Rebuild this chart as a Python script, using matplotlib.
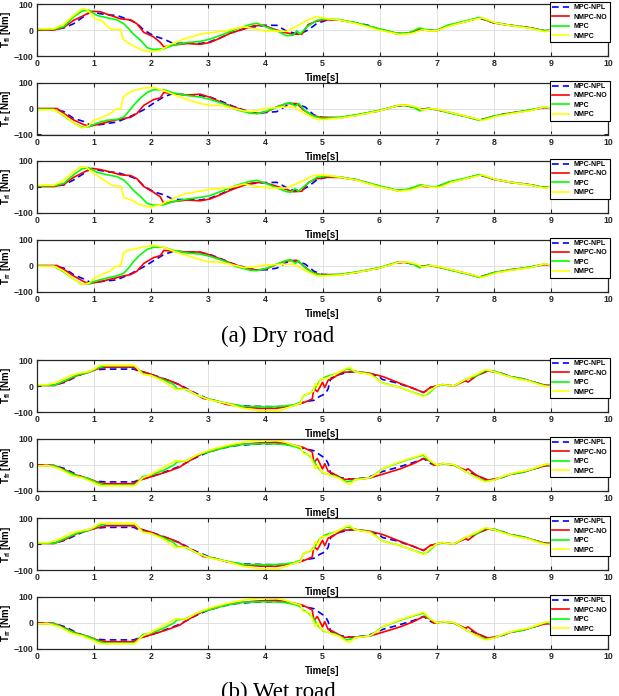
import matplotlib
matplotlib.use("Agg")
import matplotlib.pyplot as plt

plt.rcParams['font.family'] = ['Liberation Sans', 'DejaVu Sans']
plt.rcParams['font.weight'] = 'bold'
plt.rcParams['mathtext.fontset'] = 'custom'
plt.rcParams['mathtext.bf'] = 'Liberation Sans:bold'
plt.rcParams['mathtext.rm'] = 'Liberation Sans:bold'

# ---------------- data (time [s], torque [Nm]) ----------------
LABELS = ["MPC-NPL", "NMPC-NO", "MPC", "NMPC"]
X_TICKS = [0, 1, 2, 3, 4, 5, 6, 7, 8, 9, 10]
Y_TICKS = [-100, 0, 100]
YLABELS = [r"$\mathbf{T_{fl}}$ [Nm]", r"$\mathbf{T_{fr}}$ [Nm]",
           r"$\mathbf{T_{rl}}$ [Nm]", r"$\mathbf{T_{rr}}$ [Nm]"]
CAPTIONS = ["(a) Dry road", "(b) Wet road"]

# ---- Dry road, front-left
DRY_FL_NPL = [(0,2),(0.3,2),(0.47,8),(0.64,24),(0.82,52),(0.94,70),(1.1,63),(1.25,58),(1.4,56),(1.64,37),(1.75,25),(1.87,0),(2.04,-22),(2.22,-35),(2.39,-52),(2.63,-50),(2.86,-52),(3.03,-45),(3.21,-30),(3.38,-12),(3.62,4),(3.8,12),(4.0,18),(4.2,18),(4.35,-2),(4.5,-12),(4.65,-10),(4.75,0),(4.9,25),(5.1,40),
              (5.3,38),(5.6,27),(5.8,18),(6.0,2),(6.3,-14),(6.5,-12),(6.7,0),(6.85,0),(7.0,-2),(7.2,16),(7.5,33),(7.75,46),(7.9,35),(8.0,28),(8.3,18),(8.6,10),(8.9,-3),(9.0,0)]
DRY_FL_NO = [(0,0),(0.3,0),(0.47,10),(0.64,37),(0.82,56),(0.96,72),(1.11,70),(1.29,56),(1.46,43),(1.64,39),(1.75,24),(1.87,-9),(2.04,-26),(2.16,-48),(2.22,-65),(2.39,-58),(2.63,-52),(2.86,-55),(3.03,-48),(3.21,-31),(3.38,-13),(3.62,4),(3.79,16),(3.97,18),(4.14,4),(4.32,-9),(4.49,-16),(4.64,-16),(4.75,21),(4.9,34),(5.08,39),
             (5.3,38),(5.6,26),(6.0,3),(6.3,-13),(6.5,-13),(6.7,2),(6.85,-2),(7.0,-2),(7.2,17),(7.5,32),(7.75,47),(8.0,27),(8.3,17),(8.6,10),(8.9,-4),(9.0,0)]
DRY_FL_MPC = [(0,2),(0.3,3),(0.47,13),(0.64,50),(0.79,73),(0.91,76),(1.05,56),(1.23,47),(1.4,39),(1.52,24),(1.61,4),(1.69,-16),(1.81,-39),(1.93,-68),(2.04,-75),(2.22,-72),(2.39,-58),(2.63,-48),(2.86,-44),(3.03,-35),(3.27,-16),(3.5,4),(3.73,21),(3.85,26),(4.03,10),(4.2,-3),(4.37,-22),(4.49,-20),(4.55,-3),(4.61,-16),(4.73,13),(4.9,37),(5.08,43),
              (5.3,40),(5.6,27),(6.0,4),(6.3,-12),(6.5,-12),(6.7,8),(6.8,2),(7.0,-2),(7.2,19),(7.5,35),(7.75,48),(8.0,29),(8.3,18),(8.6,9),(8.9,-3),(9.0,0)]
DRY_FL_NMPC = [(0,5),(0.3,5),(0.47,23),(0.64,56),(0.79,82),(0.88,78),(1.02,43),(1.14,34),(1.25,10),(1.31,2),(1.47,2),(1.5,-35),(1.64,-55),(1.81,-75),(1.98,-84),(2.16,-78),(2.34,-55),(2.57,-35),(2.86,-16),(3.06,-10),(3.3,-3),(3.62,13),(3.8,5),(3.97,-3),(4.37,-5),(4.55,15),(4.73,37),(4.9,52),(5.08,43),
               (5.3,38),(5.6,24),(6.0,-1),(6.35,-17),(6.55,-14),(6.75,1),(6.9,-4),(7.0,-3),(7.25,17),(7.55,35),(7.8,47),(8.05,26),(8.35,15),(8.65,6),(8.9,-7),(9.0,0)]

# ---- Dry road, front-right
DRY_FR_NPL = [(0,-2),(0.3,-2),(0.47,-12),(0.64,-38),(0.82,-50),(0.94,-65),(1.11,-62),(1.4,-52),(1.64,-30),(1.87,-5),(2.04,20),(2.22,45),(2.39,58),(2.63,52),(2.86,50),(3.03,44),(3.2,30),(3.44,8),(3.68,-10),(3.85,-18),(4.03,-15),(4.2,-12),(4.4,15),(4.55,18),(4.7,5),(4.85,-25),(5.0,-35),
              (5.3,-36),(5.6,-26),(6.0,-9),(6.3,10),(6.45,12),(6.6,5),(6.7,-3),(6.85,0),(7.0,-4),(7.3,-20),(7.6,-36),(7.75,-45),(8.0,-30),(8.2,-20),(8.3,-18),(8.6,-8),(8.9,5),(9.0,0)]
DRY_FR_NO = [(0,0),(0.35,0),(0.47,-19),(0.64,-44),(0.82,-62),(0.91,-69),(1.11,-59),(1.34,-46),(1.52,-38),(1.64,-34),(1.75,-19),(1.87,12),(2.04,34),(2.16,41),(2.22,62),(2.39,56),(2.63,52),(2.86,55),(3.03,43),(3.21,25),(3.44,6),(3.68,-12),(3.85,-19),(4.03,-12),(4.2,6),(4.37,19),(4.55,19),(4.67,-6),(4.81,-25),(4.96,-34),(5.08,-34),
             (5.3,-35),(5.6,-25),(6.0,-8),(6.3,10),(6.45,12),(6.6,5),(6.7,-4),(6.85,0),(7.0,-5),(7.3,-19),(7.6,-35),(7.75,-45),(8.0,-30),(8.3,-17),(8.6,-8),(8.9,4),(9.0,0)]
DRY_FR_MPC = [(0,-2),(0.3,-3),(0.47,-28),(0.64,-55),(0.79,-72),(0.91,-70),(1.05,-56),(1.23,-45),(1.4,-42),(1.52,-33),(1.61,-10),(1.69,12),(1.81,40),(1.93,62),(2.04,72),(2.22,72),(2.39,60),(2.63,50),(2.86,44),(3.03,35),(3.27,18),(3.5,-5),(3.73,-18),(3.85,-20),(4.03,-10),(4.2,5),(4.37,20),(4.45,22),(4.52,8),(4.58,20),(4.7,-10),(4.85,-30),(5.0,-38),
              (5.3,-34),(5.6,-24),(6.0,-7),(6.3,11),(6.45,12),(6.6,4),(6.7,-9),(6.85,1),(7.0,-4),(7.3,-21),(7.6,-36),(7.75,-46),(8.0,-29),(8.3,-18),(8.6,-7),(8.9,6),(9.0,0)]
DRY_FR_NMPC = [(0,-5),(0.29,-5),(0.47,-25),(0.64,-56),(0.79,-75),(0.91,-66),(0.99,-46),(1.14,-34),(1.29,-19),(1.37,-4),(1.47,0),(1.51,44),(1.58,56),(1.69,69),(1.87,79),(2.04,81),(2.22,69),(2.39,54),(2.63,34),(2.86,19),(3.03,12),(3.21,12),(3.38,4),(3.62,-9),(3.75,-12),(4.0,0),(4.3,5),(4.5,6),(4.7,-20),(4.9,-42),(5.05,-42),
               (5.3,-37),(5.6,-27),(6.0,-9),(6.35,13),(6.5,13),(6.65,5),(6.75,-6),(6.9,0),(7.05,-5),(7.35,-21),(7.65,-37),(7.8,-46),(8.05,-30),(8.35,-18),(8.65,-8),(8.9,7),(9.0,0)]

# ---- Dry road, rear-left
DRY_RL_NPL = [(0,2),(0.3,2),(0.47,6),(0.64,25),(0.82,50),(0.94,68),(1.1,62),(1.25,56),(1.4,54),(1.64,38),(1.75,28),(1.87,2),(2.04,-20),(2.22,-32),(2.39,-50),(2.63,-50),(2.86,-52),(3.03,-45),(3.21,-30),(3.38,-12),(3.62,5),(3.8,12),(4.0,15),(4.2,16),(4.35,-2),(4.5,-15),(4.65,-12),(4.75,0),(4.9,25),(5.1,38),
              (5.3,36),(5.6,26),(6.0,1),(6.3,-15),(6.5,-12),(6.7,2),(6.85,-1),(7.0,-2),(7.2,15),(7.5,30),(7.75,45),(8.0,28),(8.3,16),(8.6,8),(8.9,-4),(9.0,0)]
DRY_RL_NO = [(0,0),(0.3,0),(0.47,8),(0.64,35),(0.82,55),(0.96,70),(1.11,65),(1.29,56),(1.46,45),(1.64,42),(1.75,30),(1.87,0),(2.04,-22),(2.16,-40),(2.22,-65),(2.39,-58),(2.63,-52),(2.86,-55),(3.03,-48),(3.21,-32),(3.38,-15),(3.62,5),(3.79,15),(3.97,15),(4.14,5),(4.32,-8),(4.49,-20),(4.64,-18),(4.75,15),(4.9,30),(5.08,35),
             (5.3,35),(5.6,25),(6.0,0),(6.3,-15),(6.5,-12),(6.7,3),(6.85,-2),(7.0,-2),(7.2,15),(7.5,30),(7.75,45),(8.0,28),(8.3,15),(8.6,8),(8.9,-5),(9.0,0)]
DRY_RL_MPC = [(0,2),(0.3,3),(0.47,12),(0.64,45),(0.79,68),(0.91,72),(1.05,55),(1.23,45),(1.4,38),(1.52,25),(1.61,5),(1.69,-15),(1.81,-38),(1.93,-65),(2.04,-72),(2.22,-70),(2.39,-58),(2.63,-48),(2.86,-42),(3.03,-35),(3.27,-15),(3.5,5),(3.73,20),(3.85,24),(4.03,10),(4.2,-5),(4.37,-20),(4.45,-22),(4.52,-8),(4.58,-18),(4.73,10),(4.9,35),(5.08,40),
              (5.3,37),(5.6,26),(6.0,2),(6.3,-14),(6.5,-11),(6.72,7),(6.85,0),(7.0,-1),(7.2,17),(7.5,32),(7.75,46),(8.0,29),(8.3,16),(8.6,8),(8.9,-4),(9.0,0)]
DRY_RL_NMPC = [(0,5),(0.3,5),(0.47,25),(0.64,57),(0.76,76),(0.85,76),(0.99,51),(1.17,25),(1.31,4),(1.47,0),(1.52,-42),(1.64,-51),(1.81,-70),(1.98,-80),(2.16,-70),(2.34,-51),(2.57,-29),(2.86,-17),(3.06,-10),(3.38,-4),(3.62,9),(3.85,0),(4.09,-6),(4.37,-6),(4.61,17),(4.84,42),(5.02,45),
               (5.3,36),(5.6,24),(6.0,-2),(6.35,-18),(6.55,-13),(6.75,3),(6.9,-3),(7.05,-3),(7.25,15),(7.55,32),(7.8,45),(8.05,26),(8.35,14),(8.65,5),(8.9,-7),(9.0,0)]

# ---- Dry road, rear-right
DRY_RR_NPL = [(0,-2),(0.3,-2),(0.47,-10),(0.64,-35),(0.82,-52),(0.94,-65),(1.11,-62),(1.4,-55),(1.64,-32),(1.87,-5),(2.04,18),(2.22,42),(2.39,55),(2.63,52),(2.86,50),(3.03,42),(3.2,28),(3.44,6),(3.68,-10),(3.85,-18),(4.03,-16),(4.2,-10),(4.4,15),(4.55,18),(4.7,5),(4.85,-22),(5.0,-35),
              (5.3,-36),(5.6,-27),(6.0,-10),(6.3,11),(6.45,12),(6.6,4),(6.7,-5),(6.85,0),(7.0,-4),(7.3,-20),(7.6,-36),(7.75,-45),(8.0,-28),(8.3,-17),(8.6,-8),(8.9,5),(9.0,0)]
DRY_RR_NO = [(0,0),(0.35,0),(0.47,-15),(0.64,-40),(0.82,-62),(0.91,-70),(1.11,-62),(1.34,-50),(1.52,-40),(1.64,-35),(1.75,-22),(1.87,8),(2.04,30),(2.16,38),(2.22,58),(2.39,55),(2.63,52),(2.86,52),(3.03,40),(3.21,25),(3.44,5),(3.68,-12),(3.85,-18),(4.03,-12),(4.2,5),(4.37,18),(4.55,20),(4.67,-2),(4.81,-25),(4.96,-35),(5.08,-35),
             (5.3,-35),(5.6,-26),(6.0,-9),(6.3,11),(6.45,12),(6.6,5),(6.7,-5),(6.85,0),(7.0,-5),(7.3,-19),(7.6,-35),(7.75,-45),(8.0,-28),(8.3,-16),(8.6,-8),(8.9,4),(9.0,0)]
DRY_RR_MPC = [(0,-2),(0.3,-3),(0.47,-25),(0.64,-52),(0.79,-72),(0.91,-70),(1.05,-58),(1.23,-48),(1.4,-40),(1.52,-30),(1.61,-8),(1.69,15),(1.81,42),(1.93,62),(2.04,70),(2.22,70),(2.39,58),(2.63,48),(2.86,44),(3.03,35),(3.27,18),(3.5,-5),(3.73,-18),(3.85,-20),(4.03,-10),(4.2,5),(4.37,20),(4.45,22),(4.52,8),(4.58,18),(4.7,-10),(4.85,-30),(5.0,-38),
              (5.3,-34),(5.6,-25),(6.0,-8),(6.3,12),(6.45,13),(6.6,4),(6.7,-9),(6.85,1),(7.0,-4),(7.3,-21),(7.6,-36),(7.75,-46),(8.0,-27),(8.3,-17),(8.6,-7),(8.9,6),(9.0,0)]
DRY_RR_NMPC = [(0,-3),(0.3,-3),(0.47,-22),(0.64,-52),(0.79,-72),(0.91,-68),(0.99,-50),(1.14,-35),(1.29,-20),(1.37,-5),(1.47,0),(1.51,45),(1.58,58),(1.69,62),(1.87,72),(2.04,78),(2.22,70),(2.39,55),(2.63,38),(2.86,22),(3.03,14),(3.21,12),(3.38,5),(3.62,-8),(3.8,-5),(4.0,2),(4.3,5),(4.5,5),(4.7,-20),(4.9,-40),(5.05,-40),
               (5.3,-37),(5.6,-27),(6.0,-10),(6.35,13),(6.5,13),(6.65,5),(6.75,-7),(6.9,0),(7.05,-5),(7.35,-21),(7.65,-37),(7.8,-46),(8.05,-28),(8.35,-17),(8.65,-8),(8.9,7),(9.0,0)]

# ---- Wet road, front-left
WET_FL_NPL = [(0,3),(0.3,3),(0.5,15),(0.7,38),(0.9,55),(1.0,62),(1.2,65),(1.7,65),(1.75,60),(2.0,45),(2.2,30),(2.5,5),(2.75,-25),(3.0,-50),(3.25,-65),(3.5,-75),(3.8,-78),(4.2,-80),(4.5,-75),(4.7,-60),(4.85,-55),(4.95,-40),(5.05,-30),(5.1,-10),(5.12,12),(5.15,30),(5.3,45),(5.5,55),(5.8,50),(6.0,35),
              (6.05,25),(6.3,12),(6.6,-10),(6.77,-25),(6.9,-5),(7.0,0),(7.1,5),(7.3,0),(7.5,22),(7.7,40),(7.9,60),(8.1,52),(8.3,35),(8.5,28),(8.7,15),(8.9,2),(9.0,0)]
WET_FL_NO = [(0,3),(0.3,2),(0.5,18),(0.7,40),(0.9,52),(1.05,65),(1.2,72),(1.7,72),(1.75,62),(2.0,45),(2.15,32),(2.33,20),(2.5,4),(2.62,-13),(2.74,-25),(2.91,-48),(3.09,-54),(3.32,-71),(3.61,-80),(3.9,-86),(4.19,-86),(4.43,-77),(4.66,-65),(4.78,-54),(4.82,-50),(4.85,-9),(4.91,-22),(5.0,14),(5.04,-6),(5.1,23),(5.16,27),(5.25,40),(5.36,53),(5.6,55),(5.83,49),
             (6.06,36),(6.36,10),(6.59,-9),(6.77,-25),(6.89,-5),(6.94,-3),(7.0,0),(7.1,5),(7.3,0),(7.5,20),(7.55,15),(7.7,40),(7.9,58),(8.1,50),(8.3,35),(8.5,28),(8.7,15),(8.9,3),(9.0,3)]
WET_FL_MPC = [(0,3),(0.3,3),(0.5,22),(0.7,42),(0.9,52),(1.05,68),(1.2,78),(1.7,78),(1.75,70),(1.85,48),(2.0,40),(2.2,25),(2.4,5),(2.45,-10),(2.6,-13),(2.8,-35),(3.0,-50),(3.3,-65),(3.6,-78),(4.0,-80),(4.3,-78),(4.5,-72),(4.62,-62),(4.66,-38),(4.8,-25),(4.9,0),(4.95,20),(5.05,35),(5.25,48),(5.42,65),(5.5,62),(5.6,55),(5.85,45),
              (6.05,12),(6.35,-5),(6.6,-25),(6.77,-38),(6.85,-30),(7.0,0),(7.1,5),(7.3,0),(7.5,25),(7.7,40),(7.85,60),(8.0,58),(8.3,35),(8.5,28),(8.7,15),(8.9,0),(9.0,0)]
WET_FL_NMPC = [(0,5),(0.2,5),(0.4,20),(0.6,42),(0.75,50),(0.9,55),(1.0,65),(1.1,80),(1.7,80),(1.75,70),(1.85,45),(2.0,40),(2.21,19),(2.42,-13),(2.62,-13),(2.8,-35),(3.03,-54),(3.32,-67),(3.61,-86),(3.9,-95),(4.25,-95),(4.43,-80),(4.62,-66),(4.66,-38),(4.84,-20),(4.87,10),(4.92,-2),(4.97,27),(5.07,30),(5.25,49),(5.42,68),(5.48,72),(5.56,55),(5.83,45),
               (6.06,10),(6.36,-5),(6.59,-25),(6.77,-41),(6.85,-25),(7.0,1),(7.1,5),(7.3,0),(7.5,25),(7.7,45),(7.85,63),(8.0,55),(8.2,40),(8.4,28),(8.6,20),(8.8,5),(8.95,-3),(9.0,0)]

# ---- Wet road, front-right
WET_FR_NPL = [(0,0),(0.3,-2),(0.5,-15),(0.7,-38),(0.9,-55),(1.0,-62),(1.2,-65),(1.7,-65),(1.75,-60),(2.0,-45),(2.2,-30),(2.5,-5),(2.75,25),(3.0,50),(3.25,65),(3.5,75),(3.8,80),(4.2,82),(4.5,75),(4.7,62),(4.85,55),(4.95,40),(5.05,25),(5.1,5),(5.12,-15),(5.15,-35),(5.3,-48),(5.5,-55),(5.8,-48),(6.0,-30),
              (6.05,-25),(6.3,-10),(6.6,10),(6.77,25),(6.9,5),(7.0,0),(7.1,5),(7.3,0),(7.5,-22),(7.7,-40),(7.9,-60),(8.1,-52),(8.3,-35),(8.5,-28),(8.7,-15),(8.9,-2),(9.0,0)]
WET_FR_NO = [(0,0),(0.3,-2),(0.5,-20),(0.7,-40),(0.9,-52),(1.05,-65),(1.2,-72),(1.7,-72),(1.75,-62),(2.0,-45),(2.15,-35),(2.33,-22),(2.5,-8),(2.62,10),(2.74,25),(2.91,45),(3.09,55),(3.32,72),(3.61,80),(3.9,85),(4.19,87),(4.43,80),(4.66,68),(4.78,55),(4.82,50),(4.85,10),(4.91,25),(5.0,-15),(5.04,5),(5.1,-25),(5.16,-30),(5.25,-40),(5.36,-55),(5.6,-55),(5.83,-50),
             (6.06,-35),(6.36,-15),(6.59,5),(6.77,25),(6.89,15),(6.94,0),(7.0,0),(7.1,5),(7.3,0),(7.5,-20),(7.55,-15),(7.7,-40),(7.9,-58),(8.1,-50),(8.3,-35),(8.5,-28),(8.7,-15),(8.9,-3),(9.0,-3)]
WET_FR_MPC = [(0,-3),(0.3,-3),(0.5,-22),(0.7,-42),(0.9,-52),(1.05,-68),(1.2,-78),(1.7,-78),(1.75,-70),(1.85,-45),(2.0,-38),(2.2,-22),(2.4,0),(2.45,12),(2.6,15),(2.8,38),(3.0,50),(3.3,68),(3.6,80),(4.0,82),(4.3,80),(4.5,72),(4.62,62),(4.66,50),(4.75,40),(4.85,15),(4.92,-10),(5.0,-30),(5.25,-45),(5.42,-65),(5.5,-62),(5.6,-55),(5.85,-48),
              (6.05,-15),(6.35,10),(6.6,28),(6.77,38),(6.85,20),(7.0,0),(7.1,5),(7.3,0),(7.5,-25),(7.7,-48),(7.85,-62),(8.0,-58),(8.3,-35),(8.5,-28),(8.7,-15),(8.9,2),(9.0,0)]
WET_FR_NMPC = [(0,-3),(0.2,-3),(0.4,-15),(0.6,-40),(0.8,-50),(1.0,-68),(1.1,-80),(1.7,-80),(1.75,-72),(1.85,-50),(2.0,-35),(2.21,-10),(2.42,16),(2.62,16),(2.8,39),(3.03,58),(3.32,75),(3.61,88),(3.9,95),(4.25,95),(4.43,81),(4.62,68),(4.66,45),(4.78,39),(4.84,6),(4.87,-13),(4.92,0),(4.98,-26),(5.13,-39),(5.3,-52),(5.42,-71),(5.48,-75),(5.56,-58),(5.83,-49),
               (6.0,-26),(6.06,-13),(6.36,13),(6.59,29),(6.77,42),(6.89,16),(7.0,0),(7.1,5),(7.3,2),(7.5,-25),(7.7,-50),(7.85,-65),(8.0,-58),(8.2,-40),(8.4,-28),(8.6,-20),(8.8,-5),(8.95,5),(9.0,0)]

# ---- Wet road, rear-left
WET_RL_NPL = [(0,3),(0.3,3),(0.5,15),(0.7,36),(0.9,55),(1.0,60),(1.2,64),(1.7,64),(1.75,58),(2.0,45),(2.2,30),(2.5,5),(2.75,-25),(3.0,-48),(3.25,-64),(3.5,-75),(3.8,-78),(4.2,-80),(4.5,-75),(4.7,-60),(4.85,-55),(4.95,-40),(5.05,-30),(5.1,-12),(5.12,10),(5.15,28),(5.3,45),(5.5,55),(5.8,50),(6.0,35),
              (6.05,25),(6.3,12),(6.6,-10),(6.77,-25),(6.9,-5),(7.0,0),(7.1,5),(7.3,0),(7.5,22),(7.7,40),(7.9,60),(8.1,52),(8.3,35),(8.5,28),(8.7,15),(8.9,2),(9.0,0)]
WET_RL_NO = [(0,3),(0.3,2),(0.5,18),(0.7,40),(0.9,52),(1.05,62),(1.2,70),(1.7,70),(1.75,62),(2.0,45),(2.15,32),(2.33,20),(2.5,4),(2.62,-13),(2.74,-25),(2.91,-48),(3.09,-54),(3.32,-68),(3.61,-80),(3.9,-85),(4.19,-86),(4.43,-77),(4.66,-65),(4.78,-54),(4.82,-50),(4.85,-9),(4.91,-22),(5.0,14),(5.04,-6),(5.1,23),(5.16,27),(5.25,40),(5.36,53),(5.6,55),(5.83,49),
             (6.06,36),(6.36,10),(6.59,-9),(6.77,-25),(6.89,-5),(6.94,-3),(7.0,0),(7.1,5),(7.3,0),(7.5,20),(7.55,15),(7.7,40),(7.9,58),(8.1,50),(8.3,35),(8.5,28),(8.7,15),(8.9,3),(9.0,3)]
WET_RL_MPC = [(0,3),(0.3,3),(0.5,22),(0.7,42),(0.9,52),(1.05,68),(1.2,78),(1.7,78),(1.75,70),(1.85,48),(2.0,40),(2.2,25),(2.4,5),(2.45,-10),(2.6,-13),(2.8,-35),(3.0,-50),(3.3,-65),(3.6,-78),(4.0,-80),(4.3,-78),(4.5,-72),(4.62,-62),(4.66,-38),(4.8,-25),(4.9,0),(4.95,20),(5.05,35),(5.25,48),(5.42,65),(5.5,62),(5.6,55),(5.85,45),
              (6.05,12),(6.35,-5),(6.6,-25),(6.77,-38),(6.85,-30),(7.0,0),(7.1,5),(7.3,0),(7.5,25),(7.7,40),(7.85,60),(8.0,58),(8.3,35),(8.5,28),(8.7,15),(8.9,0),(9.0,0)]
WET_RL_NMPC = [(0,5),(0.2,5),(0.4,20),(0.6,42),(0.75,50),(0.9,55),(1.0,65),(1.1,80),(1.7,80),(1.75,70),(1.85,45),(2.0,40),(2.21,19),(2.42,-13),(2.62,-13),(2.8,-35),(3.03,-54),(3.32,-67),(3.61,-86),(3.9,-95),(4.25,-95),(4.43,-80),(4.62,-66),(4.66,-38),(4.84,-20),(4.87,10),(4.92,-2),(4.97,27),(5.07,30),(5.25,49),(5.42,68),(5.48,72),(5.56,55),(5.83,45),
               (6.06,10),(6.36,-5),(6.59,-25),(6.77,-41),(6.85,-25),(7.0,1),(7.1,5),(7.3,0),(7.5,25),(7.7,45),(7.85,63),(8.0,55),(8.2,40),(8.4,28),(8.6,20),(8.8,5),(8.95,-3),(9.0,0)]

# ---- Wet road, rear-right
WET_RR_NPL = [(0,0),(0.3,-2),(0.5,-15),(0.7,-38),(0.9,-55),(1.0,-62),(1.2,-65),(1.7,-65),(1.75,-60),(2.0,-45),(2.2,-30),(2.5,-5),(2.75,25),(3.0,50),(3.25,65),(3.5,75),(3.8,80),(4.2,82),(4.5,75),(4.7,62),(4.85,55),(4.95,40),(5.05,25),(5.1,5),(5.12,-15),(5.15,-35),(5.3,-48),(5.5,-55),(5.8,-48),(6.0,-30),
              (6.05,-25),(6.3,-10),(6.6,10),(6.77,25),(6.9,5),(7.0,0),(7.1,5),(7.3,0),(7.5,-22),(7.7,-40),(7.9,-60),(8.1,-52),(8.3,-35),(8.5,-28),(8.7,-15),(8.9,-2),(9.0,0)]
WET_RR_NO = [(0,0),(0.3,-2),(0.5,-20),(0.7,-40),(0.9,-52),(1.05,-65),(1.2,-72),(1.7,-72),(1.75,-62),(2.0,-45),(2.15,-35),(2.33,-22),(2.5,-8),(2.62,10),(2.74,25),(2.91,45),(3.09,55),(3.32,72),(3.61,80),(3.9,85),(4.19,87),(4.43,80),(4.66,68),(4.78,55),(4.82,50),(4.85,10),(4.91,25),(5.0,-15),(5.04,5),(5.1,-25),(5.16,-30),(5.25,-40),(5.36,-55),(5.6,-55),(5.83,-50),
             (6.06,-35),(6.36,-15),(6.59,5),(6.77,25),(6.89,15),(6.94,0),(7.0,0),(7.1,5),(7.3,0),(7.5,-20),(7.55,-15),(7.7,-40),(7.9,-58),(8.1,-50),(8.3,-35),(8.5,-28),(8.7,-15),(8.9,-3),(9.0,-3)]
WET_RR_MPC = [(0,-3),(0.3,-3),(0.5,-22),(0.7,-42),(0.9,-52),(1.05,-68),(1.2,-78),(1.7,-78),(1.75,-70),(1.85,-45),(2.0,-38),(2.2,-22),(2.4,0),(2.45,12),(2.6,15),(2.8,38),(3.0,50),(3.3,68),(3.6,80),(4.0,82),(4.3,80),(4.5,72),(4.62,62),(4.66,50),(4.75,40),(4.85,15),(4.92,-10),(5.0,-30),(5.25,-45),(5.42,-65),(5.5,-62),(5.6,-55),(5.85,-48),
              (6.05,-15),(6.35,10),(6.6,28),(6.77,38),(6.85,20),(7.0,0),(7.1,5),(7.3,0),(7.5,-25),(7.7,-48),(7.85,-62),(8.0,-58),(8.3,-35),(8.5,-28),(8.7,-15),(8.9,2),(9.0,0)]
WET_RR_NMPC = [(0,-3),(0.2,-3),(0.4,-15),(0.6,-40),(0.8,-50),(1.0,-68),(1.1,-80),(1.7,-80),(1.75,-72),(1.85,-50),(2.0,-35),(2.21,-10),(2.42,16),(2.62,16),(2.8,39),(3.03,58),(3.32,75),(3.61,88),(3.9,95),(4.25,95),(4.43,81),(4.62,68),(4.66,45),(4.78,39),(4.84,6),(4.87,-13),(4.92,0),(4.98,-26),(5.13,-39),(5.3,-52),(5.42,-71),(5.48,-75),(5.56,-58),(5.83,-49),
               (6.0,-26),(6.06,-13),(6.36,13),(6.59,29),(6.77,42),(6.89,16),(7.0,0),(7.1,5),(7.3,2),(7.5,-25),(7.7,-50),(7.85,-65),(8.0,-58),(8.2,-40),(8.4,-28),(8.6,-20),(8.8,-5),(8.95,5),(9.0,0)]

PANELS = [
    [DRY_FL_NPL, DRY_FL_NO, DRY_FL_MPC, DRY_FL_NMPC],
    [DRY_FR_NPL, DRY_FR_NO, DRY_FR_MPC, DRY_FR_NMPC],
    [DRY_RL_NPL, DRY_RL_NO, DRY_RL_MPC, DRY_RL_NMPC],
    [DRY_RR_NPL, DRY_RR_NO, DRY_RR_MPC, DRY_RR_NMPC],
    [WET_FL_NPL, WET_FL_NO, WET_FL_MPC, WET_FL_NMPC],
    [WET_FR_NPL, WET_FR_NO, WET_FR_MPC, WET_FR_NMPC],
    [WET_RL_NPL, WET_RL_NO, WET_RL_MPC, WET_RL_NMPC],
    [WET_RR_NPL, WET_RR_NO, WET_RR_MPC, WET_RR_NMPC],
]

# ---------------- styling / layout ----------------
COLORS = ['#0000FF', '#FF0000', '#00FF00', '#FFFF00']
STYLES = [(0, (4, 2.5)), '-', '-', '-']
W, H = 619, 696
ROWS = [(4, 56), (82.5, 134.5), (160.5, 212.5), (239.5, 291.5),
        (360, 412), (439, 491), (518, 570), (597, 649)]
LEFT, RIGHT = 37, 608

fig = plt.figure(figsize=(W / 100, H / 100), dpi=100)

for i, (top, bot) in enumerate(ROWS):
    ax = fig.add_axes([LEFT / W, 1 - bot / H, (RIGHT - LEFT) / W, (bot - top) / H])
    for data, c, ls, lab in zip(PANELS[i], COLORS, STYLES, LABELS):
        t = [p[0] for p in data]
        v = [p[1] for p in data]
        ax.plot(t, v, color=c, linestyle=ls, lw=1.2, label=lab)
    ax.set_xlim(0, 10)
    ax.set_ylim(-100, 100)
    ax.set_xticks(X_TICKS)
    ax.set_yticks(Y_TICKS)
    ax.grid(True, color='#dcdcdc', lw=0.6)
    ax.set_axisbelow(True)
    ax.tick_params(direction='in', top=True, right=True, length=3, width=0.8,
                   labelsize=6.3, pad=2.5, colors='#262626')
    for s in ax.spines.values():
        s.set_color('#262626')
        s.set_linewidth(0.9)
    ax.set_xlabel('Time[s]', fontsize=7, fontweight='bold')
    ax.xaxis.set_label_coords(0.5, -0.33)
    ax.set_ylabel(YLABELS[i % 4], fontsize=7, fontweight='bold')
    ax.yaxis.set_label_coords(-0.042, 0.5)
    leg = ax.legend(loc='upper right', bbox_to_anchor=(1.0035, 1.038), borderaxespad=0,
                    prop={'size': 5, 'weight': 'bold'}, frameon=True, fancybox=False,
                    framealpha=1, edgecolor='black', handlelength=2.4,
                    handletextpad=0.7, labelspacing=0.35, borderpad=0.35)
    leg.get_frame().set_linewidth(0.8)

fig.text(278 / W, 1 - 336 / H, CAPTIONS[0], ha='center', va='center',
         family='Liberation Serif', fontweight='normal', fontsize=16.5)
fig.text(278 / W, 1 - 692 / H, CAPTIONS[1], ha='center', va='center',
         family='Liberation Serif', fontweight='normal', fontsize=16.5)

fig.savefig('out.png', dpi=100)
